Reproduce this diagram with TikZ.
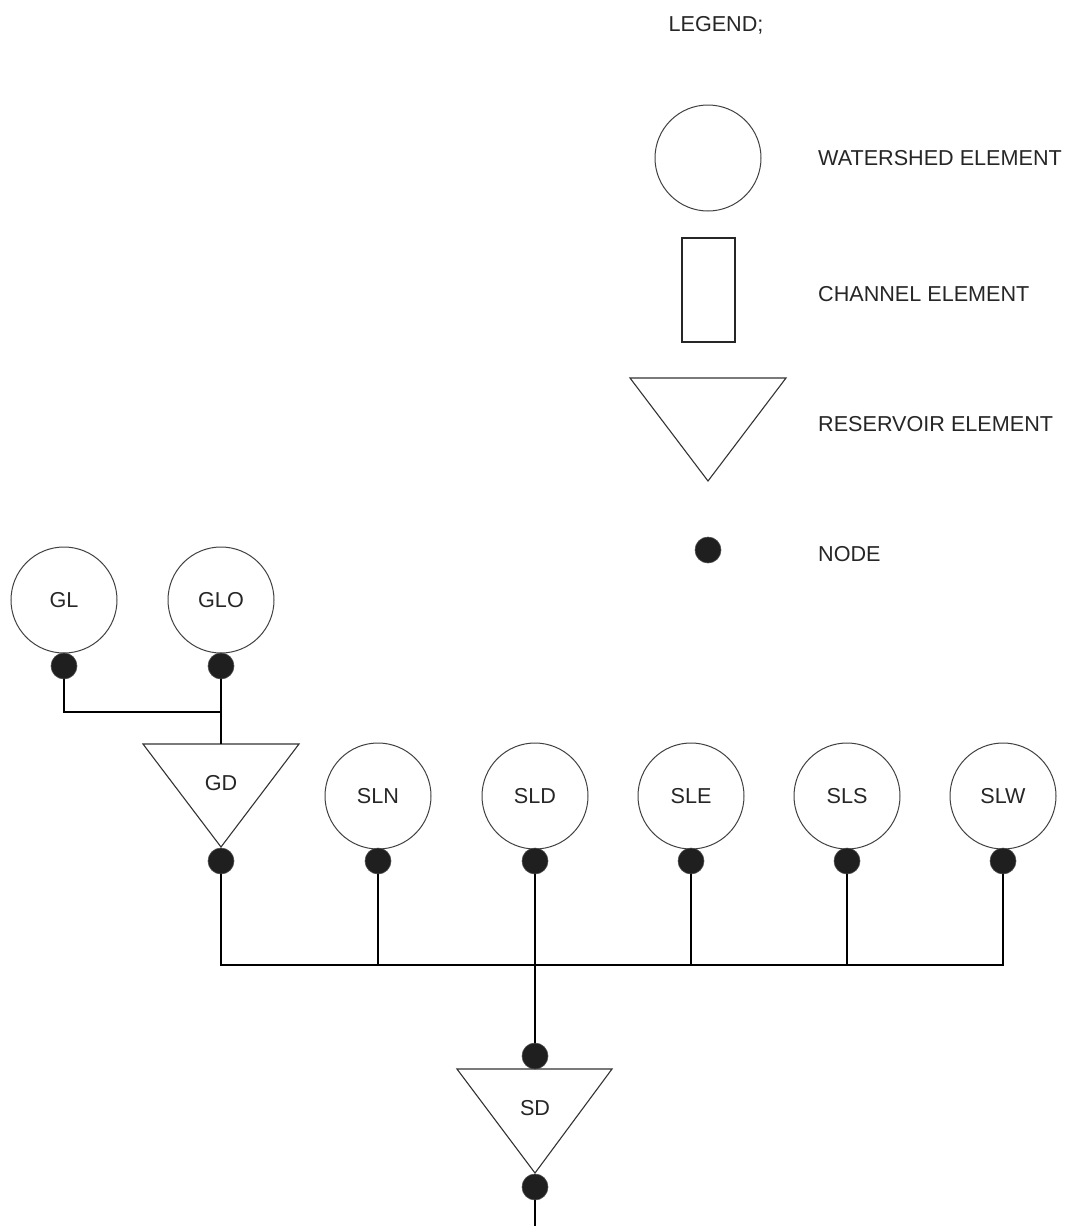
\documentclass[tikz,border=0pt]{standalone}
\usepackage{fontspec}
\setmainfont{Liberation Sans}
\begin{document}
\begin{tikzpicture}[x=1pt,y=-1pt,
  every node/.style={font=\fontsize{21.6}{26}\selectfont, text=black!85},
  wshed/.style={circle, draw=black!75, line width=1pt, minimum size=106pt, inner sep=0pt},
  chan/.style={rectangle, draw=black!85, line width=1.1pt, minimum width=53pt, minimum height=104pt, inner sep=0pt},
  resv/.style={draw=black!80, line width=1.1pt, line join=miter},
  jnode/.style={circle, fill=black!88, draw=black!70, line width=0.6pt, minimum size=26pt, inner sep=0pt},
  wire/.style={draw=black, line width=1.4pt},
  lbl/.style={anchor=west, inner sep=0pt}]
\useasboundingbox (0,0) rectangle (1070,1226);

% ---------- legend ----------
\node[inner sep=0pt] (legtitle) at (716,25) {LEGEND;};
\node[wshed] (legw) at (708,158) {};
\node[chan] (legc) at (708.5,290) {};
\draw[resv] (630,378) -- (786,378) -- (708,481) -- cycle;
\coordinate (legr) at (708,420);
\node[jnode] (legn) at (708,550) {};
\node[lbl] (legwt) at (818,158) {WATERSHED ELEMENT};
\node[lbl] (legct) at (818,294) {CHANNEL ELEMENT};
\node[lbl] (legrt) at (818,424) {RESERVOIR ELEMENT};
\node[lbl] (legnt) at (818,554) {NODE};

% ---------- upper watersheds ----------
\node[wshed] (GL) at (64,600) {GL};
\node[wshed] (GLO) at (221,600) {GLO};
\node[jnode] (nGL) at (64,666) {};
\node[jnode] (nGLO) at (221,666) {};

% ---------- GD reservoir ----------
\draw[resv] (143,744) -- (299,744) -- (221,847) -- cycle;
\coordinate (GDtop) at (221,744);
\node[inner sep=0pt] (GD) at (221,783) {GD};
\node[jnode] (nGD) at (221,861) {};

% ---------- lower watersheds ----------
\node[wshed] (SLN) at (378,796) {SLN};
\node[wshed] (SLD) at (535,796) {SLD};
\node[wshed] (SLE) at (691,796) {SLE};
\node[wshed] (SLS) at (847,796) {SLS};
\node[wshed] (SLW) at (1003,796) {SLW};
\node[jnode] (nSLN) at (378,861) {};
\node[jnode] (nSLD) at (535,861) {};
\node[jnode] (nSLE) at (691,861) {};
\node[jnode] (nSLS) at (847,861) {};
\node[jnode] (nSLW) at (1003,861) {};

% ---------- SD reservoir ----------
\node[jnode] (nSDin) at (535,1056) {};
\draw[resv] (457,1069) -- (612,1069) -- (535,1173) -- cycle;
\node[inner sep=0pt] (SD) at (535,1108) {SD};
\node[jnode] (nSDout) at (535,1187) {};
\coordinate (outlet) at (535,1226);

% ---------- connectors ----------
\coordinate (j1) at (221,712);
\draw[wire] (nGL.south) |- (j1);
\draw[wire] (nGLO.south) -- (GDtop);

\coordinate (busL) at (221,965);
\coordinate (busR) at (1003,965);
\draw[wire] (nGD.south) |- (busR) -- (nSLW.south);
\draw[wire] (nSLN.south) -- (nSLN.south |- busL);
\draw[wire] (nSLE.south) -- (nSLE.south |- busL);
\draw[wire] (nSLS.south) -- (nSLS.south |- busL);
\draw[wire] (nSLD.south) -- (nSDin.north);
\draw[wire] (nSDout.south) -- (outlet);
\end{tikzpicture}
\end{document}
